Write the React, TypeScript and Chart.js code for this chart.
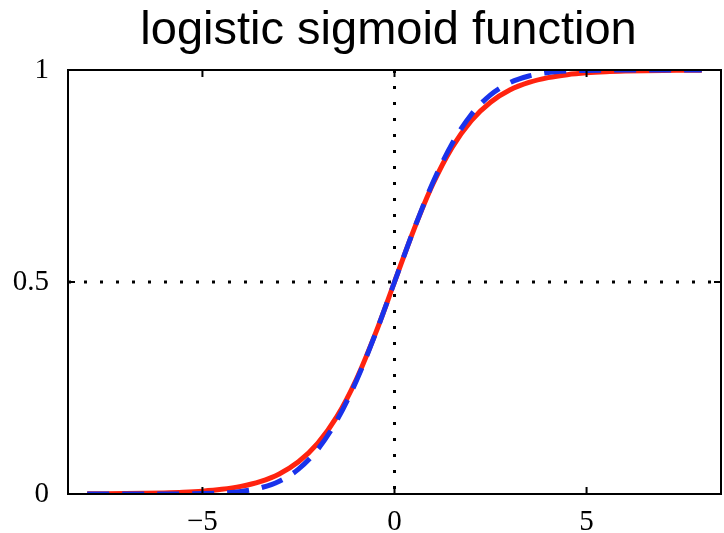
import React, { useEffect, useRef } from "react";
import { Chart, registerables } from "chart.js";

Chart.register(...registerables);

const titleText = "logistic sigmoid function";
const xValues = [-8, -7.5, -7, -6.5, -6, -5.5, -5, -4.5, -4, -3.5, -3, -2.5, -2, -1.5, -1, -0.5, 0, 0.5, 1, 1.5, 2, 2.5, 3, 3.5, 4, 4.5, 5, 5.5, 6, 6.5, 7, 7.5, 8];
const logisticValues = [0.00034, 0.00055, 0.00091, 0.0015, 0.0025, 0.0041, 0.0067, 0.011, 0.018, 0.0293, 0.0474, 0.0759, 0.1192, 0.1824, 0.2689, 0.3775, 0.5, 0.6225, 0.7311, 0.8176, 0.8808, 0.9241, 0.9526, 0.9707, 0.982, 0.989, 0.9933, 0.9959, 0.9975, 0.9985, 0.9991, 0.9994, 0.9997];
const probitValues = [0, 0, 0, 0.00001, 0.00008, 0.0003, 0.0009, 0.0024, 0.0061, 0.0142, 0.0301, 0.0586, 0.105, 0.1736, 0.2654, 0.377, 0.5, 0.623, 0.7346, 0.8264, 0.895, 0.9414, 0.9699, 0.9858, 0.9939, 0.9976, 0.9991, 0.9997, 0.9999, 1, 1, 1, 1];
const xTicks = [-5, 0, 5];
const xTickLabels = ["\u22125", "0", "5"];
const yTicks = [0, 0.5, 1];
const yTickLabels = ["0", "0.5", "1"];
const xMin = -8.5;
const xMax = 8.5;
const dottedX = 0;
const dottedY = 0.5;

const boxPlugin = {
  id: "boxPlugin",
  beforeDatasetsDraw(chart: any) {
    const { ctx, chartArea } = chart;
    const xs = chart.scales.x;
    const ys = chart.scales.y;
    ctx.save();
    ctx.strokeStyle = "#000";
    ctx.lineWidth = 3;
    ctx.setLineDash([3, 13]);
    const px = xs.getPixelForValue(dottedX);
    const py = ys.getPixelForValue(dottedY);
    ctx.beginPath();
    ctx.moveTo(px, chartArea.top);
    ctx.lineTo(px, chartArea.bottom);
    ctx.stroke();
    ctx.beginPath();
    ctx.moveTo(chartArea.left, py);
    ctx.lineTo(chartArea.right, py);
    ctx.stroke();
    ctx.restore();
  },
  afterDatasetsDraw(chart: any) {
    const { ctx, chartArea } = chart;
    const xs = chart.scales.x;
    const ys = chart.scales.y;
    const tl = 7;
    ctx.save();
    ctx.strokeStyle = "#000";
    ctx.lineWidth = 2;
    ctx.setLineDash([]);
    ctx.strokeRect(chartArea.left, chartArea.top, chartArea.right - chartArea.left, chartArea.bottom - chartArea.top);
    ctx.beginPath();
    xTicks.forEach((v) => {
      const p = xs.getPixelForValue(v);
      ctx.moveTo(p, chartArea.bottom);
      ctx.lineTo(p, chartArea.bottom - tl);
      ctx.moveTo(p, chartArea.top);
      ctx.lineTo(p, chartArea.top + tl);
    });
    yTicks.forEach((v) => {
      const p = ys.getPixelForValue(v);
      ctx.moveTo(chartArea.left, p);
      ctx.lineTo(chartArea.left + tl, p);
      ctx.moveTo(chartArea.right, p);
      ctx.lineTo(chartArea.right - tl, p);
    });
    ctx.stroke();
    // title
    ctx.fillStyle = "#000";
    ctx.font = "47px 'Liberation Sans', Arial, sans-serif";
    ctx.textAlign = "center";
    ctx.textBaseline = "alphabetic";
    ctx.fillText(titleText, (chartArea.left + chartArea.right) / 2 - 6, 44);
    ctx.restore();
  },
};

export default function App() {
  const canvasRef = useRef<HTMLCanvasElement | null>(null);

  useEffect(() => {
    document.body.style.margin = "0";
    const canvas = canvasRef.current;
    if (!canvas) return;
    const chart = new Chart(canvas, {
      type: "line",
      data: {
        datasets: [
          {
            label: "probit",
            data: xValues.map((x, i) => ({ x, y: probitValues[i] })),
            borderColor: "rgb(25, 50, 235)",
            borderWidth: 5,
            borderDash: [22, 13],
            pointRadius: 0,
            cubicInterpolationMode: "monotone",
            clip: 0,
          },
          {
            label: "logistic",
            data: xValues.map((x, i) => ({ x, y: logisticValues[i] })),
            borderColor: "rgb(255, 35, 15)",
            borderWidth: 5,
            pointRadius: 0,
            cubicInterpolationMode: "monotone",
            clip: 0,
          },
        ],
      },
      plugins: [boxPlugin],
      options: {
        animation: false,
        responsive: true,
        maintainAspectRatio: false,
        layout: { padding: { left: 0, right: 3, top: 70, bottom: 0 } },
        plugins: {
          legend: { display: false },
          tooltip: { enabled: false },
          title: { display: false },
        },
        scales: {
          x: {
            type: "linear",
            min: xMin,
            max: xMax,
            grid: { display: false },
            border: { display: false },
            afterBuildTicks: (scale: any) => {
              scale.ticks = xTicks.map((v) => ({ value: v }));
            },
            afterFit: (scale: any) => {
              scale.height = 39;
            },
            ticks: {
              autoSkip: false,
              maxRotation: 0,
              padding: 3,
              color: "#000",
              font: { family: "'Liberation Serif', 'Times New Roman', serif", size: 29 },
              callback: (v: any) => {
                const i = xTicks.indexOf(Number(v));
                return i >= 0 ? xTickLabels[i] : "";
              },
            },
          },
          y: {
            type: "linear",
            min: 0,
            max: 1,
            grid: { display: false },
            border: { display: false },
            afterBuildTicks: (scale: any) => {
              scale.ticks = yTicks.map((v) => ({ value: v }));
            },
            afterFit: (scale: any) => {
              scale.width = 68;
            },
            ticks: {
              autoSkip: false,
              padding: 11,
              color: "#000",
              font: { family: "'Liberation Serif', 'Times New Roman', serif", size: 29 },
              callback: (v: any) => {
                const i = yTicks.indexOf(Number(v));
                return i >= 0 ? yTickLabels[i] : "";
              },
            },
          },
        },
      },
    } as any);
    return () => chart.destroy();
  }, []);

  return (
    <div style={{ width: 724, height: 533, position: "relative" }}>
      <canvas ref={canvasRef} />
    </div>
  );
}
